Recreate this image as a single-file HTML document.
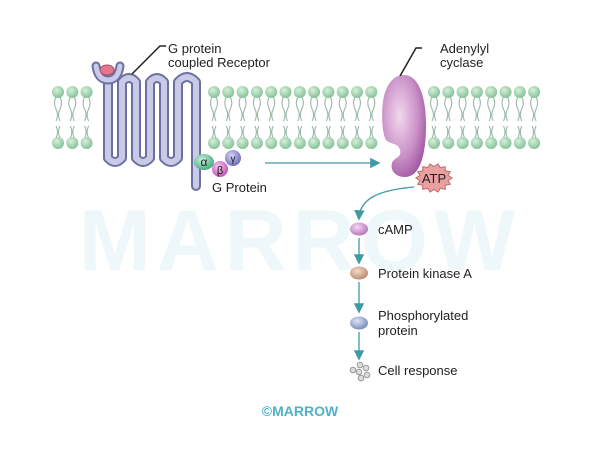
<!DOCTYPE html>
<html><head><meta charset="utf-8"><style>
html,body{margin:0;padding:0;background:#fff;}
svg{display:block;font-family:"Liberation Sans",sans-serif;}
</style></head><body>
<svg id="s" width="600" height="450" viewBox="0 0 600 450">
<defs>
<radialGradient id="head" cx="40%" cy="35%" r="70%"><stop offset="0" stop-color="#d8f0dc"/><stop offset="1" stop-color="#7fbf92"/></radialGradient>
<radialGradient id="ac" cx="40%" cy="40%" r="70%"><stop offset="0" stop-color="#f2d8ee"/><stop offset="0.6" stop-color="#c98fc6"/><stop offset="1" stop-color="#9b4f9c"/></radialGradient>
<radialGradient id="camp" cx="40%" cy="35%" r="70%"><stop offset="0" stop-color="#f3d8f3"/><stop offset="1" stop-color="#b171b8"/></radialGradient>
<radialGradient id="pka" cx="40%" cy="35%" r="70%"><stop offset="0" stop-color="#f2dccc"/><stop offset="1" stop-color="#b98566"/></radialGradient>
<radialGradient id="php" cx="40%" cy="35%" r="70%"><stop offset="0" stop-color="#dde6f5"/><stop offset="1" stop-color="#6f87b8"/></radialGradient>
<radialGradient id="ga" cx="40%" cy="35%" r="70%"><stop offset="0" stop-color="#c8efdc"/><stop offset="1" stop-color="#3fa87a"/></radialGradient>
<radialGradient id="gb" cx="40%" cy="35%" r="70%"><stop offset="0" stop-color="#f6c8ee"/><stop offset="1" stop-color="#c04ab0"/></radialGradient>
<radialGradient id="gg" cx="40%" cy="35%" r="70%"><stop offset="0" stop-color="#d6d6f6"/><stop offset="1" stop-color="#6464b8"/></radialGradient>
<marker id="arr" markerWidth="8" markerHeight="8" refX="6" refY="4" orient="auto"><path d="M0,0 L8,4 L0,8 Z" fill="#3f9aa8"/></marker>
</defs>
<text x="300" y="270" text-anchor="middle" font-size="86" font-weight="bold" fill="#eef8fb" letter-spacing="6">MARROW</text>
<g id="membrane"></g>
<g>
<path d="M108,72 L108,158 Q115,166 122,158 L122,82 Q129,74 136,82 L136,158 Q143,166 150,158 L150,82 Q157,74 164,82 L164,158 Q171,166 178,158 L178,82 Q187,72 196,82 L196,186" fill="none" stroke="#6d6fa3" stroke-width="10" stroke-linecap="round" stroke-linejoin="round"/>
<path d="M108,72 L108,158 Q115,166 122,158 L122,82 Q129,74 136,82 L136,158 Q143,166 150,158 L150,82 Q157,74 164,82 L164,158 Q171,166 178,158 L178,82 Q187,72 196,82 L196,186" fill="none" stroke="#c9cbe6" stroke-width="6" stroke-linecap="round" stroke-linejoin="round"/>
<path d="M96,66 Q98,80 108,80 Q118,80 120,66" fill="none" stroke="#6d6fa3" stroke-width="9" stroke-linecap="round"/>
<path d="M96,66 Q98,80 108,80 Q118,80 120,66" fill="none" stroke="#c9cbe6" stroke-width="5" stroke-linecap="round"/>
<ellipse cx="107" cy="70" rx="7" ry="5" fill="#e2788f" stroke="#b04a62" stroke-width="1"/>
</g>
<path d="M132,74 L160,46 L166,46" fill="none" stroke="#222" stroke-width="1.5"/>
<text x="168" y="53" font-size="13" fill="#222">G protein</text>
<text x="168" y="67" font-size="13" fill="#222">coupled Receptor</text>
<g>
<circle cx="233" cy="158" r="8" fill="url(#gg)"/>
<circle cx="220" cy="169" r="8" fill="url(#gb)"/>
<ellipse cx="204" cy="162" rx="10" ry="8" fill="url(#ga)"/>
<text x="204" y="166" font-size="12" text-anchor="middle" fill="#222">α</text>
<text x="220" y="174" font-size="11" text-anchor="middle" fill="#222">β</text>
<text x="233" y="162" font-size="10" text-anchor="middle" fill="#222">γ</text>
</g>
<text x="212" y="192" font-size="13" fill="#222">G Protein</text>
<line x1="265" y1="163" x2="378" y2="163" stroke="#3f9aa8" stroke-width="1.3" marker-end="url(#arr)"/>
<path d="M404,75 C418,75 426,95 426,125 C426,155 420,177 405,177 C395,177 390,170 392,163 C394,157 402,158 400,150 C398,142 388,145 385,138 C381,128 381,100 386,90 C390,80 396,75 404,75 Z" fill="url(#ac)"/>
<path d="M400,76 L416,48 L422,48" fill="none" stroke="#222" stroke-width="1.5"/>
<text x="440" y="53" font-size="13" fill="#222">Adenylyl</text>
<text x="440" y="67" font-size="13" fill="#222">cyclase</text>
<polygon id="atp" fill="#e9a0a0" stroke="#c36a6a" stroke-width="1"/>
<text x="434" y="183" font-size="13" text-anchor="middle" fill="#222">ATP</text>
<path d="M414,187 C380,190 360,198 359,218" fill="none" stroke="#3f9aa8" stroke-width="1.3" marker-end="url(#arr)"/>
<ellipse cx="359" cy="229" rx="9" ry="6.5" fill="url(#camp)"/>
<text x="378" y="234" font-size="13" fill="#222">cAMP</text>
<line x1="359" y1="238" x2="359" y2="262" stroke="#3f9aa8" stroke-width="1.3" marker-end="url(#arr)"/>
<ellipse cx="359" cy="273" rx="9" ry="6.5" fill="url(#pka)"/>
<text x="378" y="278" font-size="13" fill="#222">Protein kinase A</text>
<line x1="359" y1="282" x2="359" y2="311" stroke="#3f9aa8" stroke-width="1.3" marker-end="url(#arr)"/>
<ellipse cx="359" cy="323" rx="9" ry="6.5" fill="url(#php)"/>
<text x="378" y="320" font-size="13" fill="#222">Phosphorylated</text>
<text x="378" y="335" font-size="13" fill="#222">protein</text>
<line x1="359" y1="332" x2="359" y2="358" stroke="#3f9aa8" stroke-width="1.3" marker-end="url(#arr)"/>
<g fill="#ddd" stroke="#999" stroke-width="1">
<circle cx="360" cy="365" r="2.8"/><circle cx="366" cy="368" r="2.8"/><circle cx="353" cy="370" r="2.8"/><circle cx="359" cy="372" r="2.8"/><circle cx="367" cy="375" r="2.8"/><circle cx="361" cy="378" r="2.8"/></g>
<text x="378" y="375" font-size="13" fill="#222">Cell response</text>
<text x="300" y="416" text-anchor="middle" font-size="14" font-weight="bold" fill="#4fb2c9">©MARROW</text>
</svg>
<script>
var ns="http://www.w3.org/2000/svg";
var mem=document.getElementById('membrane');
var segs=[[52,95],[208,378],[428,545]];
segs.forEach(function(s){
  for(var x=s[0]+6;x<=s[1];x+=14.3){
    var t=document.createElementNS(ns,'path');
    t.setAttribute('d','M'+(x-2)+',97 q-3,6 0,12 q3,6 0,12 M'+(x+2)+',97 q3,6 0,12 q-3,6 0,12 M'+(x-2)+',138 q3,-6 0,-12 M'+(x+2)+',138 q-3,-6 0,-12');
    t.setAttribute('fill','none');t.setAttribute('stroke','#9ab8a6');t.setAttribute('stroke-width','1.1');
    
    
    mem.appendChild(t);
    [92,143].forEach(function(y){
      var c=document.createElementNS(ns,'circle');
      c.setAttribute('cx',x);c.setAttribute('cy',y);c.setAttribute('r','6');c.setAttribute('fill','url(#head)');
      
      
      mem.appendChild(c);
    });
  }
});
var p=[],cx=434,cy=178;
for(var i=0;i<28;i++){var r=i%2?11.5:14.5,a=i*Math.PI/14;p.push((cx+r*1.25*Math.cos(a)).toFixed(1)+','+(cy+r*Math.sin(a)).toFixed(1));}
document.getElementById('atp').setAttribute('points',p.join(' '));
</script>
</body></html>
